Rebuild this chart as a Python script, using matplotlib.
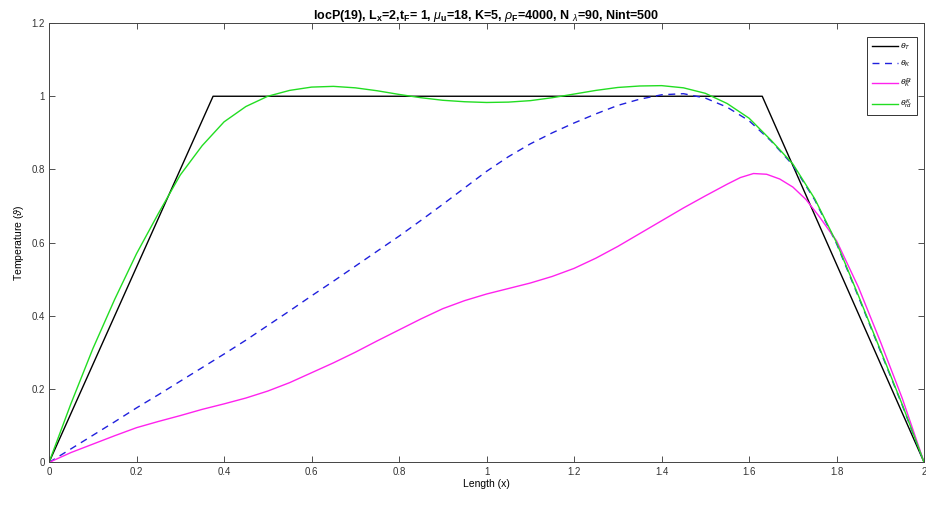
import matplotlib
matplotlib.use("Agg")
import matplotlib.pyplot as plt

plt.rcParams['font.family'] = ['Liberation Sans', 'DejaVu Sans']
plt.rcParams['mathtext.fontset'] = 'custom'
plt.rcParams['mathtext.rm'] = 'Liberation Sans'
plt.rcParams['mathtext.it'] = 'Liberation Sans:italic'
plt.rcParams['mathtext.bf'] = 'Liberation Sans:bold'

# theta_T (target, trapezoid)
x_T = [0.0, 0.375, 1.63, 2.0]
y_T = [0.0, 1.0, 1.0, 0.0]

# theta_K (blue dashed)
x_K = [0.0, 0.05, 0.1, 0.15, 0.2, 0.25, 0.3, 0.35, 0.4, 0.45, 0.5, 0.55, 0.6, 0.65, 0.7, 0.75,
       0.8, 0.85, 0.9, 0.95, 1.0, 1.05, 1.1, 1.15, 1.2, 1.25, 1.3, 1.35, 1.4, 1.45, 1.5, 1.55,
       1.6, 1.65, 1.7, 1.75, 1.8, 1.85, 1.9, 1.95, 2.0]
y_K = [0.0, 0.037, 0.074, 0.111, 0.149, 0.185, 0.222, 0.259, 0.296, 0.334, 0.374, 0.414, 0.455,
       0.495, 0.536, 0.577, 0.618, 0.661, 0.705, 0.75, 0.795, 0.835, 0.87, 0.9, 0.927, 0.952, 0.975,
       0.992, 1.004, 1.007, 0.995, 0.97, 0.933, 0.878, 0.812, 0.717, 0.597, 0.452, 0.304, 0.156, 0.0]

# theta_K^Et (magenta)
x_E = [0.0, 0.05, 0.1, 0.15, 0.2, 0.25, 0.3, 0.35, 0.4, 0.45, 0.5, 0.55, 0.6, 0.65, 0.7, 0.75,
       0.8, 0.85, 0.9, 0.95, 1.0, 1.05, 1.1, 1.15, 1.2, 1.25, 1.3, 1.35, 1.4, 1.45, 1.5, 1.55,
       1.58, 1.61, 1.64, 1.67, 1.7, 1.73, 1.76, 1.8, 1.85, 1.9, 1.95, 2.0]
y_E = [0.0, 0.027, 0.05, 0.073, 0.095, 0.112, 0.128, 0.145, 0.16, 0.176, 0.195, 0.218, 0.245,
       0.272, 0.301, 0.332, 0.362, 0.392, 0.42, 0.442, 0.46, 0.475, 0.49, 0.508, 0.53, 0.558, 0.59,
       0.625, 0.66, 0.695, 0.728, 0.76, 0.778, 0.789, 0.787, 0.774, 0.752, 0.718, 0.672, 0.605,
       0.478, 0.33, 0.175, 0.0]

# theta_rd^K (green)
x_R = [0.0, 0.025, 0.05, 0.1, 0.15, 0.2, 0.25, 0.3, 0.35, 0.4, 0.45, 0.5, 0.55, 0.6, 0.65, 0.7,
       0.75, 0.8, 0.85, 0.9, 0.95, 1.0, 1.05, 1.1, 1.15, 1.2, 1.25, 1.3, 1.35, 1.4, 1.45, 1.5,
       1.55, 1.6, 1.65, 1.7, 1.75, 1.8, 1.85, 1.9, 1.95, 2.0]
y_R = [0.0, 0.08, 0.16, 0.31, 0.445, 0.57, 0.68, 0.785, 0.865, 0.93, 0.972, 1.0, 1.016, 1.025,
       1.027, 1.023, 1.015, 1.005, 0.996, 0.989, 0.985, 0.983, 0.984, 0.988, 0.996, 1.006, 1.016,
       1.024, 1.028, 1.029, 1.023, 1.008, 0.98, 0.94, 0.88, 0.815, 0.72, 0.6, 0.455, 0.307, 0.158, 0.0]

fig = plt.figure(figsize=(9.26, 5.09), dpi=100)
ax = fig.add_axes([0.0529, 0.0914, 0.9451, 0.8634])

ax.plot(x_T, y_T, color='black', lw=1.0, label=r'$\theta_T$')
ax.plot(x_K, y_K, color='#2020dd', lw=1.0, ls=(0, (5, 4)), label=r'$\theta_K$')
ax.plot(x_E, y_E, color='#ff22ee', lw=1.0, label=r'$\theta_K^{Et}$')
ax.plot(x_R, y_R, color='#22dd22', lw=1.0, label=r'$\theta_{rd}^{K}$')

ax.set_xlim(0, 2)
ax.set_ylim(0, 1.2)
ax.set_xticks([0, 0.2, 0.4, 0.6, 0.8, 1, 1.2, 1.4, 1.6, 1.8, 2])
ax.set_xticklabels(['0', '0.2', '0.4', '0.6', '0.8', '1', '1.2', '1.4', '1.6', '1.8', '2'])
ax.set_yticks([0, 0.2, 0.4, 0.6, 0.8, 1, 1.2])
ax.set_yticklabels(['0', '0.2', '0.4', '0.6', '0.8', '1', '1.2'])
ax.tick_params(direction='in', top=True, right=True, labelsize=7, length=4, width=0.6, pad=3,
               colors='#333333')
for s in ax.spines.values():
    s.set_linewidth(0.7)
    s.set_color('#444444')

ax.set_xlabel('Length (x)', fontsize=7.5, labelpad=2)
ax.set_ylabel(r'Temperature ($\vartheta$)', fontsize=7.5, labelpad=4)
ax.set_title(r'locP(19), L$_{\mathbf{x}}$=2,t$_{\mathbf{F}}$= 1, $\mu_{\mathbf{u}}$=18, K=5, '
             r'$\rho_{\mathbf{F}}$=4000, N $_{\lambda}$=90, Nint=500',
             fontsize=9, fontweight='bold', pad=3)

leg = ax.legend(loc='upper right', bbox_to_anchor=(0.9965, 0.977), fontsize=6, handlelength=3.2,
                handletextpad=0.2, labelspacing=0.9, borderpad=0.5, fancybox=False,
                edgecolor='#333333', framealpha=1)
leg.get_frame().set_linewidth(0.7)

fig.savefig('out.png', dpi=100)
